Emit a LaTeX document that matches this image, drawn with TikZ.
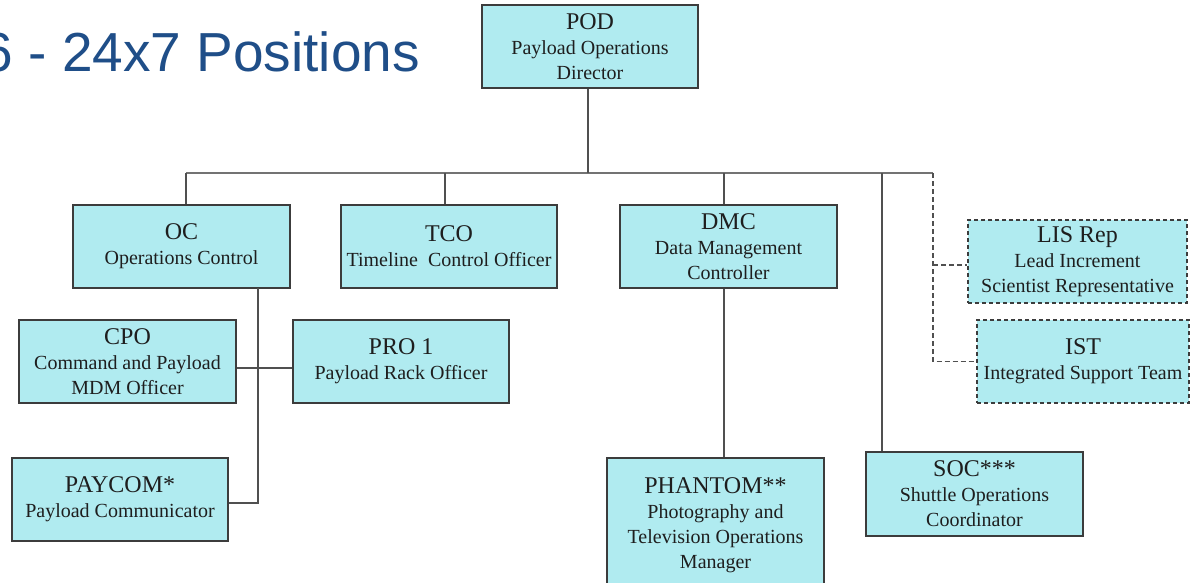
\documentclass[tikz,border=0pt]{standalone}
\usepackage{fontspec}
\setmainfont{Liberation Serif}
\newfontfamily\headfont{Liberation Sans}
\definecolor{boxfill}{RGB}{176,235,240}
\definecolor{boxline}{RGB}{60,60,60}
\definecolor{wirecol}{RGB}{80,80,80}
\definecolor{buscol}{RGB}{115,115,115}
\definecolor{headblue}{RGB}{31,78,136}
\definecolor{inkcol}{RGB}{30,30,30}
\newcommand{\rolename}[1]{{\fontsize{24}{26}\selectfont #1}}
\tikzset{
  unit/.style={draw=boxline, line width=1.3pt, fill=boxfill, text=inkcol,
    align=center, inner sep=0pt, minimum width=216pt, minimum height=83pt,
    font=\fontsize{20}{25}\selectfont},
  dashunit/.style={unit, dashed, dash pattern=on 4pt off 3pt},
  wire/.style={draw=wirecol, line width=1.4pt},
  dashwire/.style={wire, dash pattern=on 5pt off 3pt},
  busline/.style={draw=buscol, line width=2.2pt}
}
\begin{document}
\begin{tikzpicture}[x=1pt,y=-1pt]
\useasboundingbox (0,0) rectangle (1191,583);
\clip (0,0) rectangle (1191,583);

% heading
\node[anchor=base east, inner sep=0pt, text=headblue,
  font=\headfont\fontsize{55}{60}\selectfont] (head) at (420,72) {6 - 24x7 Positions};

% positions
\node[unit] (pod) at (590,46.5) {\rolename{POD}\\Payload Operations\\Director};
\node[unit, minimum width=217pt] (oc) at (181.5,246.5) {\rolename{OC}\\Operations Control};
\node[unit] (tco) at (449,246.5) {\rolename{TCO}\\Timeline\ \ Control Officer};
\node[unit, minimum width=217pt] (dmc) at (728.5,246.5) {\rolename{DMC}\\Data Management\\Controller};
\node[dashunit, minimum width=219pt] (lis) at (1077.5,261.5) {\rolename{LIS Rep}\\Lead Increment\\Scientist Representative};
\node[dashunit, minimum width=212pt] (ist) at (1083,361.5) {\rolename{IST}\\Integrated Support Team};
\node[unit, minimum width=217pt] (cpo) at (127.5,361.5) {\rolename{CPO}\\Command and Payload\\MDM Officer};
\node[unit] (pro) at (401,361.5) {\rolename{PRO 1}\\Payload Rack Officer};
\node[unit] (paycom) at (120,499.5) {\rolename{PAYCOM*}\\Payload Communicator};
\node[unit, minimum width=217pt, minimum height=134pt] (phantom) at (715.5,525)
  {\rolename{PHANTOM**}\\Photography and\\Television Operations\\Manager};
\node[unit, minimum width=217pt, minimum height=84pt] (soc) at (974.5,494)
  {\rolename{SOC***}\\Shuttle Operations\\Coordinator};

% junction points
\coordinate (busL) at (186,173);
\coordinate (busR) at (933,173);
\coordinate (socj) at (882,173);
\coordinate (ocdrop) at (258,288);
\coordinate (lisin) at ([yshift=-3.5pt]lis.west);
\coordinate (payin) at ([yshift=-3.5pt]paycom.east);
\coordinate (cpoout) at ([yshift=-6.5pt]cpo.east);
\coordinate (proin) at ([yshift=-6.5pt]pro.west);

% connectors
\draw[busline] (busL) -- (busR);
\draw[wire] ([xshift=-2pt]pod.south) -- ([xshift=-2pt]pod.south |- busL);
\draw[wire] (busL) -- ([xshift=4.5pt]oc.north);
\draw[wire] ([xshift=-4pt]tco.north |- busL) -- ([xshift=-4pt]tco.north);
\draw[wire] ([xshift=-4.5pt]dmc.north |- busL) -- ([xshift=-4.5pt]dmc.north);
\draw[wire] ([xshift=-4.5pt]dmc.south) -- ([xshift=-4.5pt]dmc.south |- phantom.north);
\draw[wire] (socj) -- (socj |- soc.north);
\draw[dashwire] (busR) -- (busR |- ist.west) -- (ist.west);
\draw[dashwire] (busR |- lisin) -- (lisin);
\draw[wire] (ocdrop) -- (ocdrop |- payin) -- (payin);
\draw[wire] (cpoout) -- (proin);
\end{tikzpicture}
\end{document}
